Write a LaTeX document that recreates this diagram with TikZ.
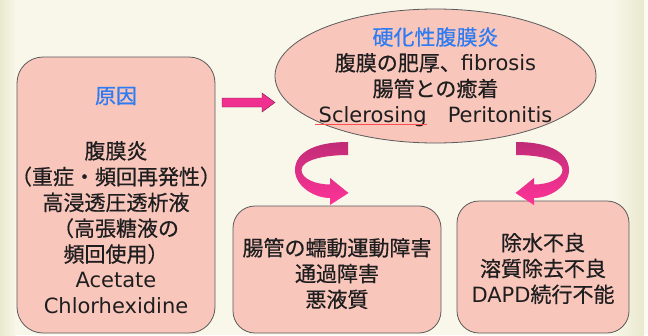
\documentclass[tikz,border=0pt]{standalone}
\usepackage{fontspec}
\setmainfont{Noto Sans CJK JP}[FakeBold=0.6]
\newfontfamily\lat{DejaVu Sans}
\usetikzlibrary{shapes.geometric}
\definecolor{bgcream}{HTML}{F8F7EA}
\definecolor{bgedge}{HTML}{EAE8CE}
\definecolor{boxfill}{HTML}{F9C6BC}
\definecolor{boxline}{HTML}{5A5A5A}
\definecolor{titleblue}{HTML}{2F7BF2}
\definecolor{txtdark}{HTML}{1E1E1E}
\definecolor{arrowpink}{HTML}{F0308E}
\definecolor{arrowtop}{HTML}{C02C76}
\definecolor{arrowbot}{HTML}{FF3399}
\tikzset{
  panel/.style={draw=boxline, line width=0.8pt, fill=boxfill, rounded corners=26pt, inner sep=0pt},
  txt/.style={align=center, text=txtdark, inner sep=0pt, font=\fontsize{21}{25.8}\selectfont},
  ttl/.style={txt, text=titleblue},
  curvearrow/.style={top color=arrowtop, bottom color=arrowbot}
}
\begin{document}
\begin{tikzpicture}[x=1pt,y=-1pt]
\useasboundingbox (0,0) rectangle (648,335);
% background
\fill[bgcream] (0,0) rectangle (648,335);
\shade[left color=bgedge, right color=bgcream] (0,0) rectangle (16,335);
\shade[left color=bgcream, right color=bgedge] (612,0) rectangle (644,335);
\fill[bgcream!60!white] (644,0) rectangle (648,335);

% boxes
\node[panel, minimum width=198pt, minimum height=276pt] (cause) at (116,195) {};
\node[panel, rounded corners=22pt, minimum width=208pt, minimum height=127pt] (bowel) at (337,269.5) {};
\node[panel, rounded corners=22pt, minimum width=172pt, minimum height=132pt] (dial) at (543,267) {};
\node[ellipse, draw=boxline, line width=0.8pt, fill=boxfill, inner sep=0pt,
      minimum width=321pt, minimum height=134pt] (sp) at (435.5,76) {};

% texts
\node[ttl] (causetitle) at (116,96) {原因};
\node[txt] (causetext) at (116,227.5) {腹膜炎\\（重症・頻回再発性）\\高浸透圧透析液\\（高張糖液の\\頻回使用）\\{\lat Acetate}\\{\lat Chlorhexidine}};
\node[txt] (sptext) at (435.5,77) {\textcolor{titleblue}{硬化性腹膜炎}\\腹膜の肥厚、{\lat fibrosis}\\腸管との癒着\\{\lat Sclerosing}\hspace{21pt}{\lat Peritonitis}};
\draw[red!70, line width=0.5pt] (315,124.5) -- (427,124.5);
\node[txt] (boweltext) at (337,273.5) {腸管の蠕動運動障害\\通過障害\\悪液質};
\node[txt] (dialtext) at (543,268.5) {除水不良\\溶質除去不良\\{\lat DAPD}続行不能};

% straight block arrow from cause to sp
\filldraw[fill=arrowpink, draw=arrowpink!50!black, line width=0.4pt]
  (222,98) -- (262,98) -- (262,93) -- (275,102.5) -- (262,112) -- (262,107) -- (222,107) -- cycle;

% curved arrow left (sp -> bowel)
\shade[curvearrow]
  (348,142) .. controls (312,142) and (295,154) .. (295,170)
  .. controls (295,186) and (314,198) .. (330,198)
  -- (330,205) -- (348.5,193) -- (330,178) -- (330,184.5)
  .. controls (316,184.5) and (301.5,179) .. (301.5,170)
  .. controls (301.5,160) and (324,155) .. (348,155) -- cycle;

% curved arrow right (sp -> dial)
\shade[curvearrow]
  (516,142) .. controls (552,142) and (569,154) .. (569,170)
  .. controls (569,186) and (550,198) .. (534,198)
  -- (534,205) -- (515.5,193) -- (534,178) -- (534,184.5)
  .. controls (548,184.5) and (562.5,179) .. (562.5,170)
  .. controls (562.5,160) and (540,155) .. (516,155) -- cycle;
\end{tikzpicture}
\end{document}
